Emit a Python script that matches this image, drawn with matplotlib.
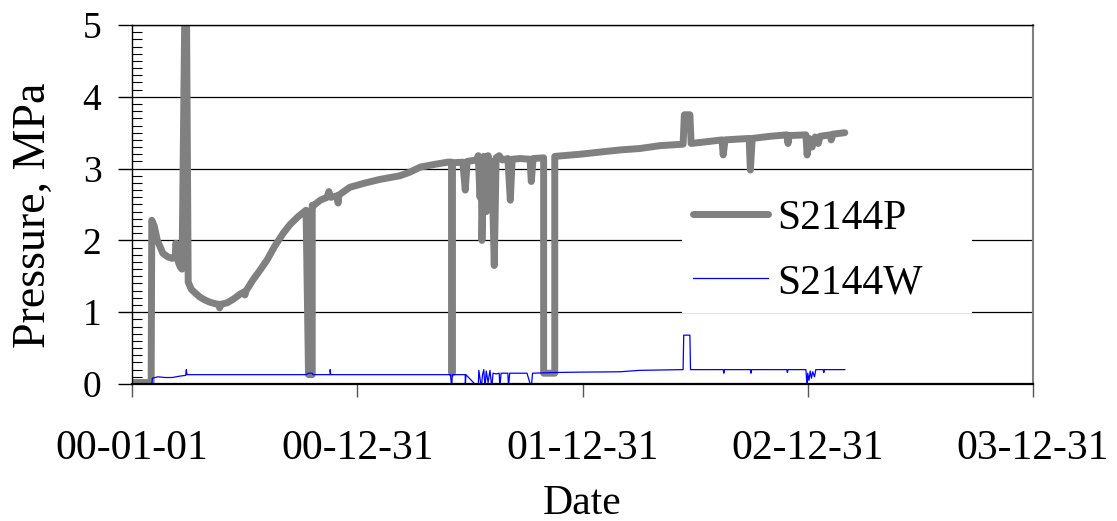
import numpy as np
import matplotlib
matplotlib.use("Agg")
import matplotlib.pyplot as plt
import matplotlib.dates as mdates
from matplotlib.ticker import MultipleLocator

plt.rcParams['font.family'] = ['Liberation Serif', 'DejaVu Serif']

#Data: days after 2000-01-01 and pressure in MPa
p_days = [0, 31, 32, 36, 41, 50, 58, 65, 70, 71, 73, 75, 78, 81, 86, 88, 91, 96,
          102, 110, 118, 126, 134, 140, 142, 144, 154, 164, 175, 181, 183, 185, 196,
          207, 219, 232, 245, 256, 269, 282, 286, 292, 292, 295, 305, 316, 319, 322,
          332, 334, 335, 353, 378, 402, 434, 450, 467, 491, 512, 518, 518, 519, 519,
          536, 540, 543, 559, 561, 564, 566, 567, 570, 574, 577, 580, 583, 587, 590,
          595, 600, 609, 613, 616, 629, 645, 647, 650, 667, 667, 685, 685, 726, 758,
          791, 823, 856, 893, 895, 904, 906, 937, 956, 958, 961, 1000, 1002, 1005,
          1034, 1061, 1063, 1065, 1092, 1094, 1097, 1102, 1107, 1112, 1115, 1131,
          1133, 1136, 1155]
p_vals = [0.02, 0.02, 2.28, 2.2, 2.0, 1.82, 1.77, 1.75, 1.76, 1.96, 1.9, 1.7, 1.63,
          1.6, 5.6, 5.6, 1.42, 1.32, 1.27, 1.21, 1.17, 1.14, 1.12, 1.11, 1.06, 1.11,
          1.13, 1.18, 1.25, 1.28, 1.24, 1.3, 1.45, 1.58, 1.73, 1.93, 2.1, 2.22, 2.33,
          2.42, 0.13, 0.13, 2.49, 2.49, 2.56, 2.6, 2.68, 2.6, 2.62, 2.52, 2.63, 2.74,
          2.8, 2.85, 2.9, 2.95, 3.02, 3.06, 3.09, 3.09, 0.15, 0.15, 3.08, 3.09, 2.7,
          3.1, 3.12, 3.18, 2.6, 3.15, 2.0, 3.17, 2.4, 3.18, 2.9, 3.1, 1.65, 3.15,
          3.18, 3.12, 3.14, 2.56, 3.13, 3.14, 3.13, 2.82, 3.14, 3.15, 0.15, 0.15,
          3.17, 3.2, 3.23, 3.26, 3.28, 3.32, 3.34, 3.75, 3.75, 3.35, 3.38, 3.4, 3.19,
          3.4, 3.42, 2.98, 3.42, 3.45, 3.47, 3.35, 3.46, 3.47, 3.19, 3.42, 3.3, 3.44,
          3.35, 3.45, 3.47, 3.4, 3.48, 3.5]

w_days = [0, 32, 33, 42, 54, 65, 78, 87, 88, 89, 191, 282, 286, 292, 293, 321, 321,
          322, 400, 516, 518, 519, 540, 540, 541, 561, 562, 566, 568, 570, 572, 574,
          577, 580, 583, 585, 590, 595, 596, 598, 609, 610, 612, 640, 647, 649, 685,
          726, 791, 823, 893, 894, 904, 905, 958, 959, 960, 1002, 1003, 1004, 1061,
          1062, 1063, 1092, 1094, 1095, 1097, 1099, 1101, 1103, 1106, 1108, 1120,
          1121, 1122, 1155]
w_vals = [0.0, 0.0, 0.08, 0.1, 0.09, 0.09, 0.11, 0.12, 0.2, 0.13, 0.13, 0.13, 0.15,
          0.15, 0.13, 0.13, 0.2, 0.13, 0.13, 0.13, -0.05, 0.13, 0.13, -0.05, 0.13,
          -0.05, 0.19, -0.05, 0.13, 0.2, -0.05, 0.18, 0.02, 0.19, -0.05, 0.15, 0.14,
          0.15, -0.05, 0.15, 0.15, -0.05, 0.15, 0.15, -0.05, 0.15, 0.16, 0.165, 0.17,
          0.19, 0.2, 0.68, 0.68, 0.2, 0.2, 0.15, 0.2, 0.2, 0.15, 0.2, 0.2, 0.16, 0.2,
          0.2, -0.05, 0.15, 0.05, 0.18, 0.08, 0.17, 0.1, 0.2, 0.2, 0.16, 0.2, 0.2]

start = np.datetime64('2000-01-01')
p_dates = start + np.array(p_days).astype('timedelta64[D]')
w_dates = start + np.array(w_days).astype('timedelta64[D]')

tick_dates = ['2000-01-01', '2000-12-31', '2001-12-31', '2002-12-31', '2003-12-31']

fig = plt.figure(figsize=(11.17, 5.21), dpi=100)
ax = fig.add_axes([0.1182, 0.263, 0.8066, 0.689])

ax.plot(p_dates, p_vals, color='#808080', lw=5.0, label='S2144P',
        solid_capstyle='round', solid_joinstyle='round')
ax.plot(w_dates, w_vals, color='#0000ff', lw=0.9, label='S2144W')

#axes
ax.set_xlim(np.datetime64(tick_dates[0]), np.datetime64(tick_dates[-1]))
ax.set_ylim(0, 5)
ax.set_xticks([np.datetime64(t) for t in tick_dates])
ax.xaxis.set_major_formatter(mdates.DateFormatter('%y-%m-%d'))
ax.yaxis.set_major_locator(MultipleLocator(1))
ax.yaxis.set_minor_locator(MultipleLocator(0.1))
ax.grid(axis='y', which='major', color='black', lw=0.9)
ax.set_axisbelow(True)

ax.tick_params(axis='x', direction='out', length=9.5, width=1, color='#555555',
               labelsize=30, pad=23)
ax.tick_params(axis='y', which='major', direction='out', length=10, width=1,
               labelsize=27, pad=12)
ax.tick_params(axis='y', which='minor', direction='in', length=7, width=0.8)

ax.spines['bottom'].set_linewidth(1.6)
ax.spines['left'].set_linewidth(1.0)
ax.spines['top'].set_linewidth(1.0)
ax.spines['right'].set_color('#808080')
ax.spines['right'].set_linewidth(1.5)

ax.set_xlabel('Date', fontsize=30, labelpad=12)
ax.set_ylabel('Pressure, MPa', fontsize=33)
ax.yaxis.set_label_coords(-0.086, 0.47)

leg = ax.legend(loc='lower left', bbox_to_anchor=(0.6104, 0.198, 0.322, 0.33),
                mode='expand', fontsize=30, frameon=True, fancybox=False,
                facecolor='white', edgecolor='white', framealpha=1,
                borderaxespad=0, borderpad=0.26, handlelength=1.8,
                handletextpad=0.22, labelspacing=0.62)
leg.get_frame().set_linewidth(0)

fig.savefig('out.png', dpi=100)
